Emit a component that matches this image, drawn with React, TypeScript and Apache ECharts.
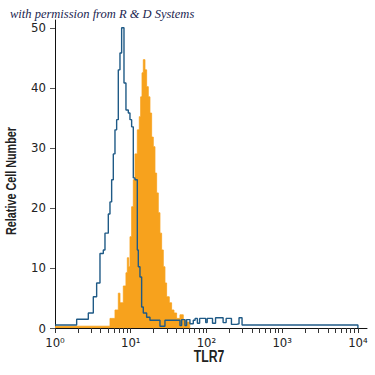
import React, { useEffect, useRef } from "react";
import * as echarts from "echarts";

// log10 of fluorescence where each histogram step begins, and its height
const blueEdges = [0, 0.286, 0.44, 0.506, 0.55, 0.594, 0.638, 0.66, 0.704, 0.726, 0.748, 0.77, 0.792, 0.814, 0.836, 0.858, 0.88, 0.911, 0.937, 0.968, 0.99, 1.012, 1.034, 1.056, 1.087, 1.1, 1.122, 1.144, 1.166, 1.21, 1.254, 1.386, 1.452, 1.606, 1.65, 1.672, 1.716, 1.738, 1.782, 1.826, 1.85, 1.88, 1.91, 1.99, 2.01, 2.08, 2.12, 2.22, 2.26, 2.33, 2.4, 2.43, 2.47, 4.0];
const blueCounts = [0.5, 1.45, 2.5, 5.2, 7.5, 12.4, 13, 15.8, 19, 21, 24.7, 29, 33, 34.7, 43, 45.8, 50, 40.8, 36.3, 35.8, 34.7, 33.5, 25, 24.7, 13, 10.2, 8.5, 3.5, 2.5, 1.8, 1.3, 0.3, 1.3, 1.3, 0.4, 1.4, 0.4, 1.4, 0.7, 1.3, 1.6, 0.8, 1.6, 0.9, 1.6, 0.8, 1.7, 0.9, 1.6, 0.6, 0.7, 1.7, 0.5, 0];

const orangeEdges = [0, 0.726, 0.792, 0.836, 0.858, 0.902, 0.937, 0.955, 0.973, 0.99, 1.012, 1.034, 1.056, 1.087, 1.113, 1.131, 1.149, 1.166, 1.188, 1.21, 1.232, 1.254, 1.276, 1.298, 1.32, 1.342, 1.364, 1.386, 1.408, 1.43, 1.452, 1.474, 1.509, 1.54, 1.571, 1.606, 1.65, 1.694, 1.738, 1.78];
const orangeCounts = [0.3, 1.6, 3, 5.8, 4.2, 7, 9.2, 11.7, 10.2, 15.2, 20.2, 24.7, 29, 33, 35.2, 38.5, 42.5, 44.7, 43, 40.2, 38.5, 35.8, 31.8, 30.2, 25.8, 22.5, 19.2, 15.8, 13, 10.2, 7.5, 5.2, 4.2, 3, 2.5, 1.6, 2.2, 1.3, 1.0, 0];

const yTicks = [0, 10, 20, 30, 40, 50];
const xDecades = [0, 1, 2, 3, 4];
const minorMultipliers = [2, 3, 4, 5, 6, 7, 8, 9];
const supers = ["\u2070", "\u00B9", "\u00B2", "\u00B3", "\u2074"];

const FONT = "'DejaVu Sans Condensed', 'Liberation Sans Narrow', 'Liberation Sans', sans-serif";

export default function App() {
  const ref = useRef<HTMLDivElement>(null);
  useEffect(() => {
    if (!ref.current) return;
    const chart = echarts.init(ref.current, null, { renderer: "svg" });
    const xTicks: number[] = [];
    for (let d = 0; d < 4; d++) {
      xTicks.push(d);
      minorMultipliers.forEach((m) => xTicks.push(d + Math.log10(m)));
    }
    xTicks.push(4);
    const toPairs = (xs: number[], ys: number[]) => xs.map((x, i) => [x, ys[i]]);
    const orangeData = toPairs(orangeEdges, orangeCounts);
    const blueData = toPairs(blueEdges, blueCounts);
    chart.setOption({
      animation: false,
      backgroundColor: "#ffffff",
      grid: { left: 55, right: 8, top: 20, bottom: 47 },
      graphic: [
        {
          type: "text",
          left: 10,
          top: 7,
          style: {
            text: "with permission from R & D Systems",
            font: "italic 12.5px 'Liberation Serif', 'DejaVu Serif', serif",
            fill: "#1b2550",
          },
        },
        {
          type: "text",
          x: 11,
          y: 181,
          rotation: Math.PI / 2,
          scaleX: 0.72,
          style: {
            text: "Relative Cell Number",
            font: "bold 15px 'Liberation Sans', sans-serif",
            fill: "#222",
            align: "center",
            verticalAlign: "middle",
          },
        },
        {
          type: "text",
          x: 209,
          y: 356,
          scaleX: 0.72,
          style: {
            text: "TLR7",
            font: "bold 17px 'Liberation Sans', sans-serif",
            fill: "#222",
            align: "center",
            verticalAlign: "middle",
          },
        },
      ],
      xAxis: {
        type: "value",
        min: 0,
        max: 4.12,
        axisLine: { show: true, lineStyle: { color: "#111", width: 1 } },
        axisTick: { show: true, inside: false, length: 5, customValues: xTicks, lineStyle: { color: "#333" } },
        axisLabel: {
          customValues: xDecades,
          margin: 8,
          fontFamily: FONT,
          fontSize: 13,
          color: "#222",
          formatter: (v: number) => "10" + supers[Math.round(v)],
        },
        splitLine: { show: false },
      },
      yAxis: {
        type: "value",
        min: 0,
        max: 51.3,
        axisLine: { show: true, lineStyle: { color: "#111", width: 1 } },
        axisTick: { show: true, length: 5, customValues: yTicks, lineStyle: { color: "#555" } },
        axisLabel: {
          customValues: yTicks,
          margin: 9,
          fontFamily: FONT,
          fontSize: 13,
          color: "#222",
        },
        splitLine: { show: false },
      },
      series: [
        {
          type: "line",
          step: "end",
          data: orangeData,
          showSymbol: false,
          lineStyle: { width: 0.8, color: "#f7a21d" },
          areaStyle: { color: "#f7a21d", opacity: 1 },
          z: 2,
        },
        {
          type: "line",
          step: "end",
          data: blueData,
          showSymbol: false,
          lineStyle: { width: 1.4, color: "#1f5a86" },
          z: 3,
        },
      ],
    });
    return () => chart.dispose();
  }, []);
  return <div ref={ref} style={{ width: 375, height: 375, position: "absolute", left: 0, top: 0 }} />;
}
